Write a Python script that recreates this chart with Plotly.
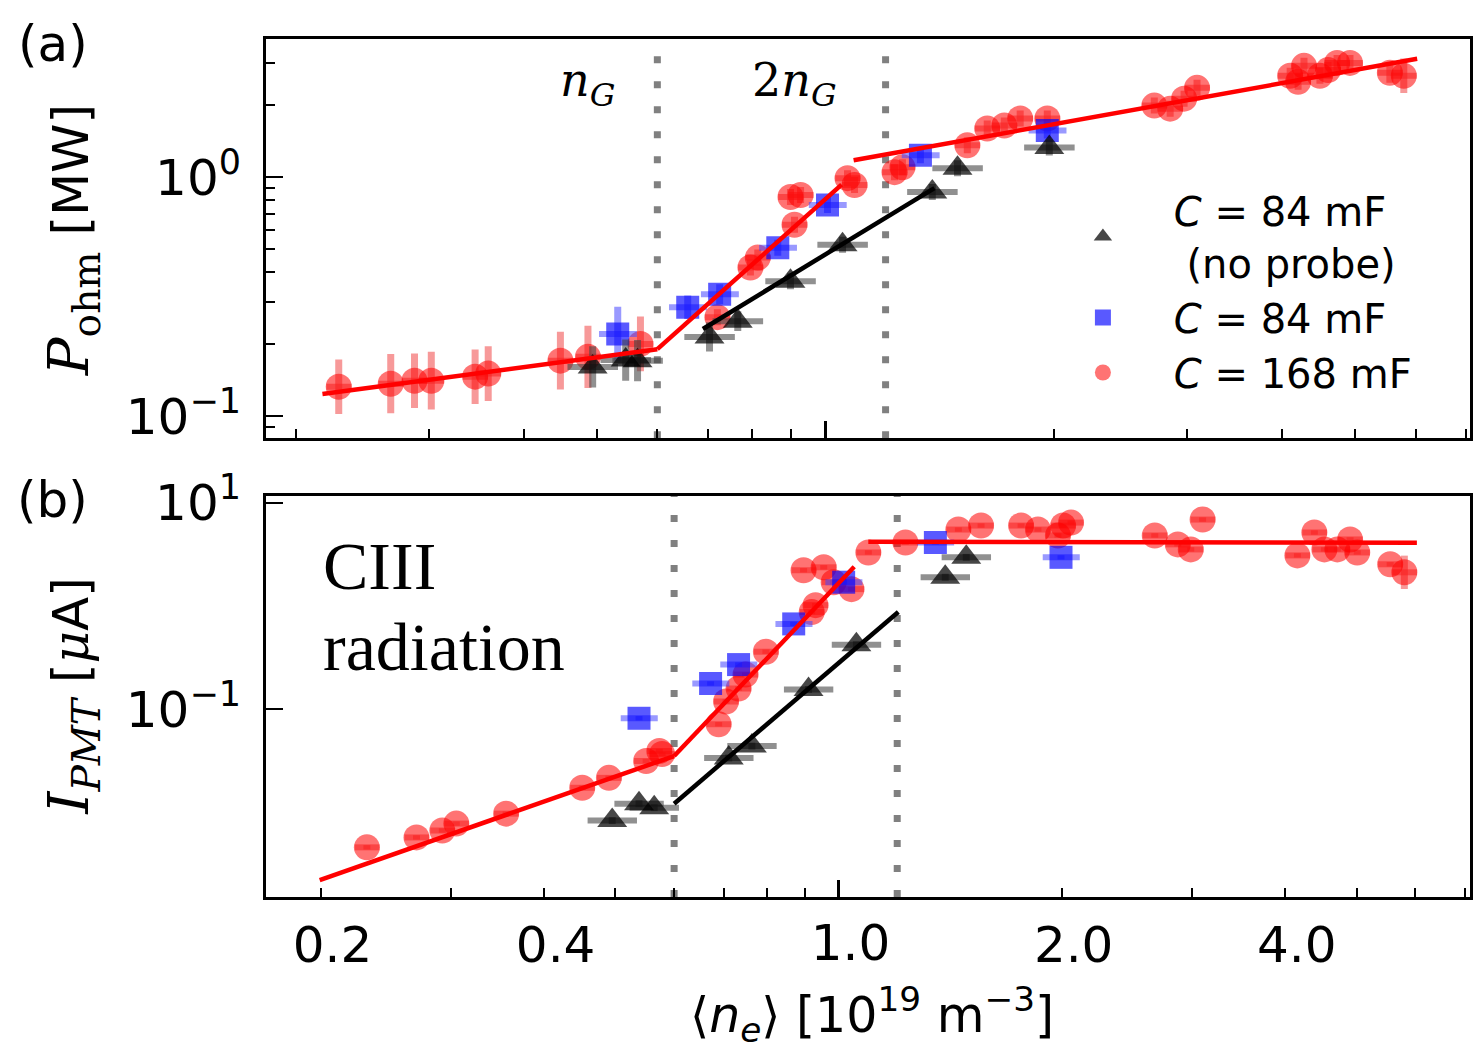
import plotly.graph_objects as go
import numpy as np

# ---------------- data ----------------
# panel (a): ohmic power [MW] vs line-averaged density [1e19 m^-3]
a_red_x = [0.228, 0.267, 0.287, 0.302, 0.345, 0.359, 0.447, 0.486, 0.570, 0.72, 0.796, 0.814,
           0.899, 0.910, 0.927, 1.069, 1.092, 1.233, 1.263, 1.538, 1.634, 1.721, 1.806, 1.961,
           2.714, 2.848, 2.971, 3.09, 4.10, 4.20, 4.276, 4.488, 4.60, 4.728, 4.917, 5.55, 5.79]
a_red_y = [0.133, 0.137, 0.141, 0.141, 0.1466, 0.151, 0.171, 0.1774, 0.201, 0.26, 0.419, 0.461,
           0.826, 0.632, 0.842, 0.99, 0.927, 1.049, 1.10, 1.357, 1.597, 1.643, 1.757, 1.757,
           1.99, 1.932, 2.127, 2.36, 2.65, 2.50, 2.917, 2.65, 2.80, 3.0, 3.0, 2.728, 2.65]
a_red_err = [0.30, 0.33, 0.30, 0.32, 0.30, 0.30, 0.32, 0.35, 0.30, 0.08, 0.08, 0.08,
             0.08, 0.08, 0.08, 0.08, 0.08, 0.08, 0.08, 0.08, 0.08, 0.08, 0.08, 0.08,
             0.08, 0.08, 0.08, 0.08, 0.08, 0.08, 0.08, 0.08, 0.08, 0.08, 0.08, 0.10, 0.18]

a_blue_x = [0.532, 0.658, 0.725, 0.865, 1.006, 1.334, 1.961]
a_blue_y = [0.221, 0.286, 0.324, 0.507, 0.765, 1.234, 1.567]
a_blue_err = [0.30, 0.12, 0.10, 0.08, 0.08, 0.08, 0.08]

a_black_x = [0.493, 0.545, 0.565, 0.703, 0.766, 0.899, 1.053, 1.383, 1.493, 1.973]
a_black_y = [0.161, 0.172, 0.171, 0.215, 0.250, 0.367, 0.522, 0.867, 1.09, 1.33]
a_black_err = [0.22, 0.22, 0.22, 0.15, 0.10, 0.08, 0.08, 0.08, 0.08, 0.08]

a_fit_red = [([0.217, 0.60], [0.124, 0.191]),
             ([0.60, 1.05], [0.191, 0.93]),
             ([1.089, 6.03], [1.176, 3.12])]
a_fit_black = ([0.689, 1.392], [0.232, 0.90])

# panel (b): PMT current [uA]
b_red_x = [0.231, 0.2695, 0.292, 0.305, 0.356, 0.451, 0.490, 0.550, 0.573, 0.578, 0.689, 0.705,
           0.733, 0.749, 0.798, 0.920, 0.931, 0.897, 0.955, 0.985, 1.041, 1.097, 1.231, 1.451,
           1.557, 1.763, 1.858, 1.977, 2.009, 2.059, 2.671, 2.869, 2.987, 3.099, 4.16, 4.385,
           4.524, 4.71, 4.90, 5.01, 5.55, 5.80]
b_red_y = [0.00461, 0.00575, 0.00671, 0.00783, 0.00977, 0.0174, 0.0217, 0.0316, 0.0395, 0.0369,
           0.0717, 0.119, 0.159, 0.217, 0.361, 0.876, 1.02, 2.22, 2.37, 1.70, 1.457, 3.30, 4.12,
           5.50, 6.01, 6.01, 5.50, 4.82, 6.01, 6.42, 4.82, 3.95, 3.53, 6.87, 3.09, 5.15, 3.53,
           3.53, 4.41, 3.30, 2.535, 2.12]
b_red_err = [0.05] * 41 + [0.45]

b_blue_x = [0.538, 0.672, 0.733, 0.870, 1.016, 1.351, 1.996]
b_blue_y = [0.0819, 0.1778, 0.271, 0.671, 1.70, 4.12, 2.96]

b_black_x = [0.495, 0.538, 0.564, 0.711, 0.764, 0.911, 1.057, 1.393, 1.487]
b_black_y = [0.00837, 0.0122, 0.01117, 0.0338, 0.0441, 0.1556, 0.422, 1.90, 2.96]

b_fit_red = [([0.1995, 0.60], [0.00222, 0.0353]),
             ([0.60, 1.05], [0.0353, 2.4]),
             ([1.097, 6.03], [4.2, 4.1])]
b_fit_black = ([0.600, 1.204], [0.0122, 0.876])

n_G = 0.6          # Greenwald density
n_2G = 1.2

x_minor_ticks = [0.2, 0.3, 0.4, 0.5, 0.6, 0.7, 0.8, 0.9, 2, 3, 4, 5, 6, 7]
x_labels = {0.2: "0.2", 0.4: "0.4", 2: "2.0", 4: "4.0"}
ya_minor = [0.09, 0.2, 0.3, 0.4, 0.5, 0.6, 0.7, 0.8, 0.9, 2, 3]

XR_A = [-0.738, 0.850]
XR_B = [-0.7725, 0.852]
YR_A = [-1.091, 0.577]
YR_B = [-2.817, 1.067]

# ---------------- styles ----------------
RED_M = "rgba(255,0,0,0.55)"
RED_E = "rgba(240,70,70,0.55)"
BLUE_M = "rgba(0,0,255,0.65)"
BLUE_E = "rgba(70,70,255,0.55)"
BLK_M = "rgba(0,0,0,0.72)"
BLK_E = "rgba(70,70,70,0.6)"
SANS = "DejaVu Sans"
SERIF = "DejaVu Serif"
TICKSIZE = 50

fig = go.Figure()

# vertical dotted lines at n_G and 2 n_G (drawn first, under the markers)
for xa, ya, yr in (("x", "y", YR_A), ("x2", "y2", YR_B)):
    for v in (n_G, n_2G):
        fig.add_trace(go.Scatter(x=[v, v], y=[10 ** yr[0], 10 ** yr[1]], mode="lines",
                                 xaxis=xa, yaxis=ya, showlegend=False, hoverinfo="skip",
                                 line=dict(color="#808080", width=7, dash="7px,18px")))


def add_points(x, y, err, xerr, symbol, size, mcol, ecol, xa, ya, name, show, rank):
    up = [v * e for v, e in zip(y, err)]
    dn = [v * (1 - 1 / (1 + e)) for v, e in zip(y, err)]
    fig.add_trace(go.Scatter(
        x=x, y=y, mode="markers", xaxis=xa, yaxis=ya, name=name, showlegend=show,
        legendrank=rank,
        marker=dict(symbol=symbol, size=size, color=mcol, line=dict(width=0)),
        error_y=dict(type="data", array=up, arrayminus=dn, color=ecol, thickness=7, width=0),
        error_x=dict(type="percent", value=xerr, valueminus=xerr * 0.92, color=ecol,
                     thickness=6, width=0),
    ))


PAD = "\u00a0\u00a0\u00a0\u00a0"
lab_black = PAD + "<i>C</i> = 84 mF<br>" + PAD + " (no probe)"
lab_blue = PAD + "<i>C</i> = 84 mF"
lab_red = PAD + "<i>C</i> = 168 mF"

# panel (a)
add_points(a_red_x, a_red_y, a_red_err, 4, "circle", 26, RED_M, RED_E, "x", "y", lab_red, True, 3)
add_points(a_blue_x, a_blue_y, a_blue_err, 6, "square", 23, BLUE_M, BLUE_E, "x", "y", lab_blue, True, 2)
add_points(a_black_x, a_black_y, a_black_err, 8, "triangle-up", 26, BLK_M, BLK_E, "x", "y", lab_black, True, 1)
for sx, sy in a_fit_red:
    fig.add_trace(go.Scatter(x=sx, y=sy, mode="lines", xaxis="x", yaxis="y", showlegend=False,
                             line=dict(color="#ff0000", width=4.5)))
fig.add_trace(go.Scatter(x=a_fit_black[0], y=a_fit_black[1], mode="lines", xaxis="x", yaxis="y",
                         showlegend=False, line=dict(color="black", width=4.5)))

# panel (b)
add_points(b_red_x, b_red_y, b_red_err, 4, "circle", 26, RED_M, RED_E, "x2", "y2", lab_red, False, 3)
add_points(b_blue_x, b_blue_y, [0.05] * len(b_blue_y), 6, "square", 23, BLUE_M, BLUE_E, "x2", "y2", lab_blue, False, 2)
add_points(b_black_x, b_black_y, [0.08] * len(b_black_y), 8, "triangle-up", 26, BLK_M, BLK_E, "x2", "y2", lab_black, False, 1)
for sx, sy in b_fit_red:
    fig.add_trace(go.Scatter(x=sx, y=sy, mode="lines", xaxis="x2", yaxis="y2", showlegend=False,
                             line=dict(color="#ff0000", width=4.5)))
fig.add_trace(go.Scatter(x=b_fit_black[0], y=b_fit_black[1], mode="lines", xaxis="x2", yaxis="y2",
                         showlegend=False, line=dict(color="black", width=4.5)))

# ---------------- axes ----------------
axis_common = dict(type="log", showline=True, linewidth=3, linecolor="black", mirror=True,
                   ticks="inside", tickwidth=2, tickcolor="black", showgrid=False, zeroline=False,
                   tickfont=dict(family=SANS, size=TICKSIZE, color="black"))

fig.update_layout(
    xaxis=dict(axis_common, domain=[0, 1], anchor="y", range=XR_A, tickmode="array",
               tickvals=x_minor_ticks, showticklabels=False, ticklen=9),
    xaxis3=dict(type="log", overlaying="x", anchor="y", range=XR_A, showline=False, showgrid=False,
                zeroline=False, ticks="inside", tickvals=[1.0], ticklen=17, tickwidth=2.5,
                tickcolor="black", showticklabels=False),
    yaxis=dict(axis_common, domain=[0.5347, 1], anchor="x", range=YR_A,
               tickmode="array", tickvals=[0.1, 1],
               ticktext=["10<sup>\u22121</sup>", "10<sup>0</sup>"], ticklen=17,
               ticklabelstandoff=12,
               minor=dict(tickmode="array", tickvals=ya_minor, ticks="inside", ticklen=9,
                          tickwidth=2, tickcolor="black", showgrid=False)),
    xaxis2=dict(axis_common, domain=[0, 1], anchor="y2", range=XR_B, tickmode="array",
                tickvals=x_minor_ticks, ticktext=[x_labels.get(v, "") for v in x_minor_ticks],
                ticklen=9, ticklabelstandoff=2, ticklabelshift=12),
    xaxis4=dict(type="log", overlaying="x2", anchor="y2", range=XR_B, showline=False, showgrid=False,
                zeroline=False, ticks="inside", tickvals=[1.0], ticktext=["1.0"], ticklen=17,
                tickwidth=2.5, tickcolor="black", side="bottom", ticklabelstandoff=12,
                ticklabelshift=12, tickfont=dict(family=SANS, size=TICKSIZE, color="black")),
    yaxis2=dict(axis_common, domain=[0, 0.4676], anchor="x2", range=YR_B,
                tickmode="array", tickvals=[0.1, 10],
                ticktext=["10<sup>\u22121</sup>", "10<sup>1</sup>"], ticklen=17,
                ticklabelstandoff=12),
)
# invisible traces to activate overlay axes
fig.add_trace(go.Scatter(x=[1.0], y=[1.0], xaxis="x3", yaxis="y", mode="markers",
                         marker=dict(opacity=0), showlegend=False, hoverinfo="skip"))
fig.add_trace(go.Scatter(x=[1.0], y=[1.0], xaxis="x4", yaxis="y2", mode="markers",
                         marker=dict(opacity=0), showlegend=False, hoverinfo="skip"))

# ---------------- texts ----------------
ann = []
ann.append(dict(text="<i>n</i><sub><i>G</i></sub>", x=np.log10(0.486), y=np.log10(2.45), xref="x",
                yref="y", showarrow=False, font=dict(family=SERIF, size=46, color="black")))
ann.append(dict(text="2<i>n</i><sub><i>G</i></sub>", x=np.log10(0.91), y=np.log10(2.45), xref="x",
                yref="y", showarrow=False, font=dict(family=SERIF, size=46, color="black")))
ann.append(dict(text="CIII", x=0.046, y=0.826, xref="x2 domain", yref="y2 domain",
                xanchor="left", yanchor="middle", align="left", showarrow=False,
                font=dict(family="Liberation Serif", size=68, color="black")))
ann.append(dict(text="radiation", x=0.046, y=0.622, xref="x2 domain", yref="y2 domain",
                xanchor="left", yanchor="middle", align="left", showarrow=False,
                font=dict(family="Liberation Serif", size=68, color="black")))
ann.append(dict(text="(a)", x=-0.177, y=0.994, xref="paper", yref="paper", showarrow=False,
                xanchor="center", yanchor="middle",
                font=dict(family=SANS, size=50, color="black")))
ann.append(dict(text="(b)", x=-0.177, y=0.463, xref="paper", yref="paper", showarrow=False,
                xanchor="center", yanchor="middle",
                font=dict(family=SANS, size=50, color="black")))
ann.append(dict(text="<span style=\"font-family:'DejaVu Serif';font-size:56px\"><i>P</i><sub>ohm</sub></span> [MW]",
                x=-0.1607, y=0.765, xref="paper", yref="paper", textangle=-90, showarrow=False,
                xanchor="center", yanchor="middle",
                font=dict(family=SANS, size=50, color="black")))
ann.append(dict(text="<span style=\"font-family:'DejaVu Serif';font-size:56px\"><i>I</i><sub><i>PMT</i></sub></span> "
                     "[<span style=\"font-family:'DejaVu Serif'\"><i>\u03bc</i></span>A]",
                x=-0.1607, y=0.234, xref="paper", yref="paper", textangle=-90, showarrow=False,
                xanchor="center", yanchor="middle",
                font=dict(family=SANS, size=50, color="black")))
ann.append(dict(text="\u27e8<i>n</i><sub><i>e</i></sub>\u27e9 [10<sup>19</sup> m<sup>\u22123</sup>]",
                x=0.503, y=-0.137, xref="paper", yref="paper", showarrow=False,
                xanchor="center", yanchor="middle",
                font=dict(family=SANS, size=49, color="black")))

fig.update_layout(
    width=1483, height=1054,
    margin=dict(l=266, r=10, t=33, b=157),
    paper_bgcolor="white", plot_bgcolor="white",
    annotations=ann,
    legend=dict(x=0.6785, y=0.838, xanchor="left", yanchor="top", bgcolor="rgba(0,0,0,0)",
                font=dict(family=SANS, size=40, color="black"), itemsizing="trace",
                valign="middle", tracegroupgap=0),
    showlegend=True,
)

fig.write_html("out.html")
